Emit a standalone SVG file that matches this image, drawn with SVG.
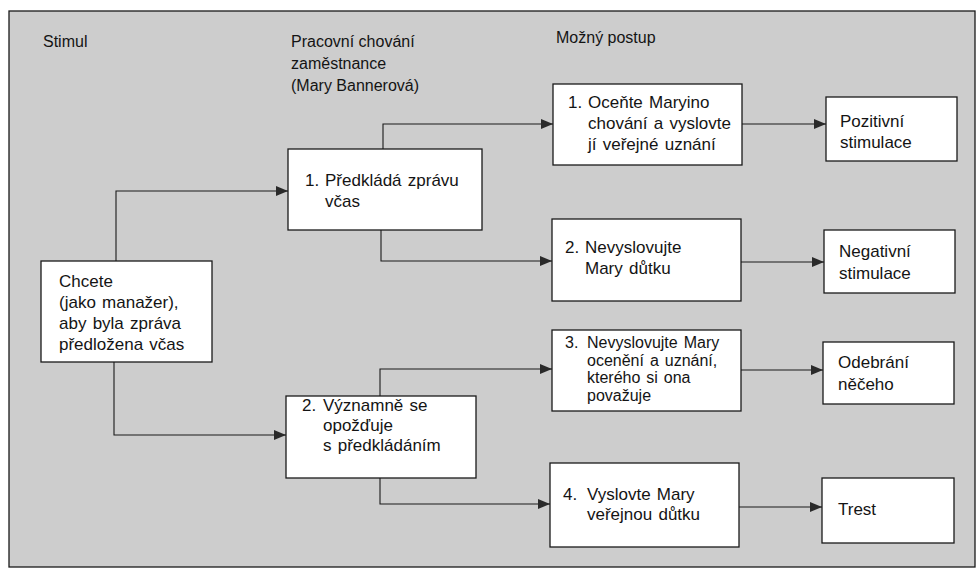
<svg xmlns="http://www.w3.org/2000/svg" width="978" height="571" viewBox="0 0 978 571">
<defs>
<style>
text{font-family:"Liberation Sans",Arial,sans-serif;fill:#141414;}
.h{font-size:16px;}
.t{font-size:17px;word-spacing:1.5px;}
.s{font-size:16px;word-spacing:1.5px;}
.box{fill:#ffffff;stroke:#1a1a1a;stroke-width:1.3;}
.c{fill:none;stroke:#1a1a1a;stroke-width:1.1;}
</style>
<marker id="ar" viewBox="0 0 12 10" refX="12" refY="5" markerWidth="12" markerHeight="10" markerUnits="userSpaceOnUse" orient="auto">
<path d="M0,0 L12,5 L0,10 Z" fill="#2a2a2a"/>
</marker>
</defs>
<rect x="0" y="0" width="978" height="571" fill="#ffffff"/>
<rect id="frame" x="9" y="11" width="966" height="556" fill="#cdcdcd" stroke="#1a1a1a" stroke-width="1.3"/>
<g id="headers">
<text class="h" x="43" y="47">Stimul</text>
<text class="h" x="291" y="47">Pracovní chování</text>
<text class="h" x="291" y="69">zaměstnance</text>
<text class="h" x="291" y="91">(Mary Bannerová)</text>
<text class="h" x="556" y="43">Možný postup</text>
</g>
<g id="connectors">
<path class="c" d="M116,261 V191 H288" marker-end="url(#ar)"/>
<path class="c" d="M114,362 V435 H286" marker-end="url(#ar)"/>
<path class="c" d="M383,149 V124 H553" marker-end="url(#ar)"/>
<path class="c" d="M381,230 V261 H552" marker-end="url(#ar)"/>
<path class="c" d="M380,396 V369 H552" marker-end="url(#ar)"/>
<path class="c" d="M380,478 V504 H550" marker-end="url(#ar)"/>
<path class="c" d="M742,124 H826" marker-end="url(#ar)"/>
<path class="c" d="M741,262 H824" marker-end="url(#ar)"/>
<path class="c" d="M741,370 H823" marker-end="url(#ar)"/>
<path class="c" d="M739,507 H822" marker-end="url(#ar)"/>
</g>
<g id="stimul">
<rect class="box" x="41" y="261" width="171" height="101"/>
<text class="t" x="59" y="287">Chcete</text>
<text class="t" x="59" y="308">(jako manažer),</text>
<text class="t" x="59" y="329">aby byla zpráva</text>
<text class="t" x="59" y="350">předložena včas</text>
</g>
<g id="chovani1">
<rect class="box" x="288" y="149" width="194" height="81"/>
<text class="t" x="305" y="186">1.<tspan x="325">Předkládá zprávu</tspan></text>
<text class="t" x="325" y="207">včas</text>
</g>
<g id="chovani2">
<rect class="box" x="286" y="396" width="190" height="82"/>
<text class="t" x="302" y="411">2.<tspan x="323">Významně se</tspan></text>
<text class="t" x="323" y="431">opožďuje</text>
<text class="t" x="323" y="451">s předkládáním</text>
</g>
<g id="postup1">
<rect class="box" x="553" y="84" width="189" height="81"/>
<text class="t" x="568" y="108">1.<tspan x="588">Oceňte Maryino</tspan></text>
<text class="t" x="588" y="129">chování a vyslovte</text>
<text class="t" x="588" y="150">jí veřejné uznání</text>
</g>
<g id="postup2">
<rect class="box" x="552" y="219" width="189" height="82"/>
<text class="t" x="565" y="253">2.<tspan x="585">Nevyslovujte</tspan></text>
<text class="t" x="585" y="274">Mary důtku</text>
</g>
<g id="postup3">
<rect class="box" x="552" y="330" width="189" height="81"/>
<text class="s" x="565" y="348">3.<tspan x="587">Nevyslovujte Mary</tspan></text>
<text class="s" x="587" y="365.5">ocenění a uznání,</text>
<text class="s" x="587" y="383">kterého si ona</text>
<text class="s" x="587" y="400.5">považuje</text>
</g>
<g id="postup4">
<rect class="box" x="550" y="463" width="189" height="84"/>
<text class="t" x="563" y="500">4.<tspan x="587">Vyslovte Mary</tspan></text>
<text class="t" x="587" y="520">veřejnou důtku</text>
</g>
<g id="vysledek1">
<rect class="box" x="826" y="97" width="131" height="64"/>
<text class="t" x="840" y="127">Pozitivní</text>
<text class="t" x="840" y="148">stimulace</text>
</g>
<g id="vysledek2">
<rect class="box" x="824" y="230" width="131" height="63"/>
<text class="t" x="839" y="257">Negativní</text>
<text class="t" x="839" y="279">stimulace</text>
</g>
<g id="vysledek3">
<rect class="box" x="823" y="342" width="131" height="62"/>
<text class="t" x="838" y="368">Odebrání</text>
<text class="t" x="838" y="390">něčeho</text>
</g>
<g id="vysledek4">
<rect class="box" x="822" y="478" width="132" height="65"/>
<text class="t" x="838" y="515">Trest</text>
</g>
</svg>
